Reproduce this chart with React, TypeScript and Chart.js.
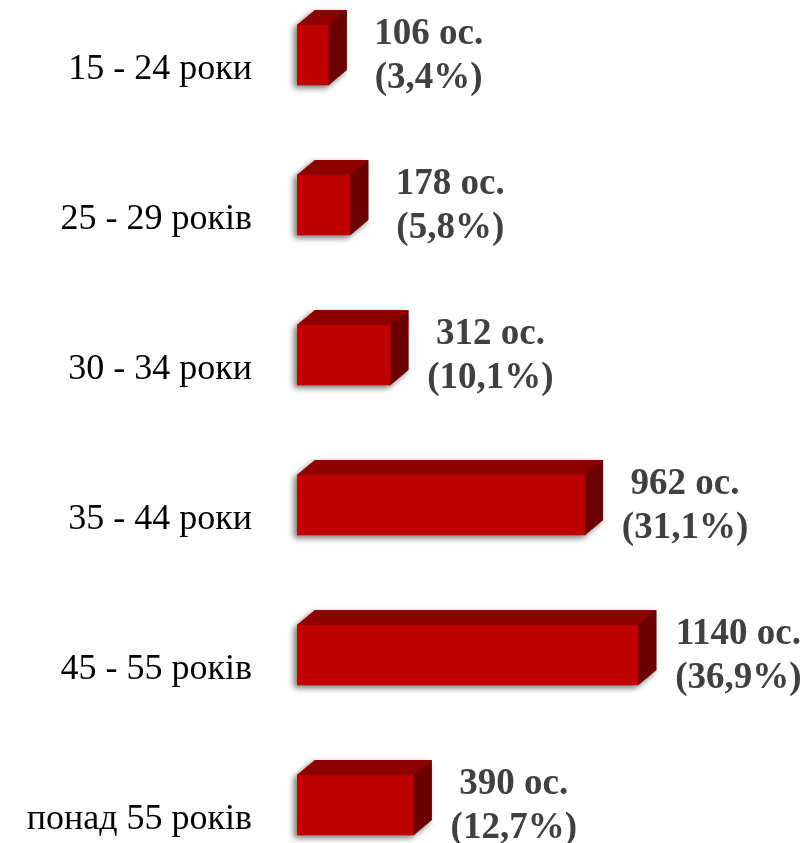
import React, { useEffect, useRef } from "react";
import { Chart, registerables } from "chart.js";

Chart.register(...registerables);

const categories = ["15 - 24 роки", "25 - 29 років", "30 - 34 роки", "35 - 44 роки", "45 - 55 років", "понад 55 років"];
const persons = [106, 178, 312, 962, 1140, 390];
const percents = [3.4, 5.8, 10.1, 31.1, 36.9, 12.7];

const FRONT = "#C00000";
const TOP = "#8E0000";
const SIDE = "#6C0000";
const DX = 18;
const DY = 15;

const bar3d = {
  id: "bar3d",
  beforeDatasetsDraw(chart: any) {
    const ctx = chart.ctx;
    const meta = chart.getDatasetMeta(0);
    ctx.save();
    meta.data.forEach((bar: any) => {
      const left = bar.base;
      const right = bar.x;
      const top = bar.y - bar.height / 2;
      const bottom = bar.y + bar.height / 2;
      ctx.shadowColor = "rgba(0,0,0,0.55)";
      ctx.shadowBlur = 6;
      ctx.shadowOffsetX = -3;
      ctx.shadowOffsetY = 3;
      ctx.fillStyle = FRONT;
      ctx.beginPath();
      ctx.moveTo(left, bottom);
      ctx.lineTo(left, top);
      ctx.lineTo(left + DX, top - DY);
      ctx.lineTo(right + DX, top - DY);
      ctx.lineTo(right + DX, bottom - DY);
      ctx.lineTo(right, bottom);
      ctx.closePath();
      ctx.fill();
    });
    ctx.restore();
  },
  afterDatasetsDraw(chart: any) {
    const ctx = chart.ctx;
    const meta = chart.getDatasetMeta(0);
    ctx.save();
    meta.data.forEach((bar: any, i: number) => {
      const left = bar.base;
      const right = bar.x;
      const top = bar.y - bar.height / 2;
      const bottom = bar.y + bar.height / 2;
      ctx.fillStyle = TOP;
      ctx.beginPath();
      ctx.moveTo(left, top);
      ctx.lineTo(left + DX, top - DY);
      ctx.lineTo(right + DX, top - DY);
      ctx.lineTo(right, top);
      ctx.closePath();
      ctx.fill();
      ctx.fillStyle = SIDE;
      ctx.beginPath();
      ctx.moveTo(right, top);
      ctx.lineTo(right + DX, top - DY);
      ctx.lineTo(right + DX, bottom - DY);
      ctx.lineTo(right, bottom);
      ctx.closePath();
      ctx.fill();

      ctx.fillStyle = "#404040";
      ctx.font = 'bold 37px "Liberation Serif", "Times New Roman", serif';
      ctx.textAlign = "center";
      ctx.textBaseline = "alphabetic";
      const cx = right + 100;
      ctx.fillText(`${persons[i]} ос.`, cx, bar.y - 11);
      ctx.fillText(`(${percents[i].toFixed(1).replace(".", ",")}%)`, cx, bar.y + 33);
    });
    ctx.restore();
  },
};

export default function App() {
  const ref = useRef<HTMLCanvasElement | null>(null);
  useEffect(() => {
    document.body.style.overflow = "hidden";
    const chart = new Chart(ref.current as HTMLCanvasElement, {
      type: "bar",
      data: {
        labels: categories,
        datasets: [
          {
            data: persons,
            backgroundColor: FRONT,
            borderWidth: 0,
            barThickness: 60,
          },
        ],
      },
      options: {
        indexAxis: "y",
        animation: false,
        responsive: false,
        devicePixelRatio: 1,
        layout: { padding: 0, autoPadding: false },
        plugins: { legend: { display: false }, tooltip: { enabled: false } },
        scales: {
          x: { display: false, min: 0, max: 1710 },
          y: {
            grid: { display: false, drawTicks: false },
            border: { display: false },
            ticks: {
              color: "#000000",
              font: { family: '"Liberation Serif", "Times New Roman", serif', size: 36 },
              padding: 45,
              labelOffset: 15,
            },
            afterFit: (s: any) => {
              s.width = 297;
              s.paddingTop = 0;
              s.paddingBottom = 0;
            },
          },
        },
      },
      plugins: [bar3d],
    } as any);
    return () => chart.destroy();
  }, []);
  return (
    <div style={{ position: "fixed", left: 0, top: -20, width: 809, height: 900, background: "#ffffff" }}>
      <canvas ref={ref} width={809} height={900} style={{ width: 809, height: 900 }} />
    </div>
  );
}
